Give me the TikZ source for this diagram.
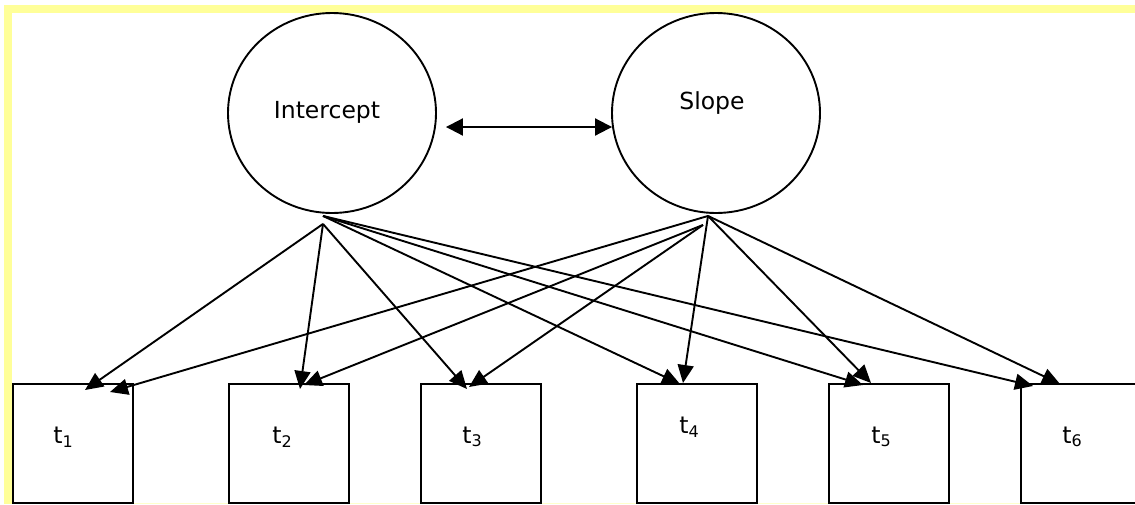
\documentclass[tikz,border=0pt]{standalone}
\usepackage{fontspec}
\setmainfont{DejaVu Sans}
\usetikzlibrary{arrows.meta,shapes.geometric}
\definecolor{framey}{HTML}{FFFF99}
\newcommand\tlab[1]{t\raisebox{-3.5pt}{\fontsize{16}{16}\selectfont #1}}
\tikzset{
  latent/.style={draw,ellipse,line width=1.9pt,minimum width=208pt,minimum height=200pt,inner sep=0pt},
  obsbox/.style={draw,rectangle,line width=2.2pt,minimum width=120pt,minimum height=119pt,inner sep=0pt},
  bigtext/.style={inner sep=0pt,font=\fontsize{23.5}{28}\selectfont},
  path/.style={line width=1.9pt,-{Triangle[length=18pt,width=16pt]}},
  covpath/.style={line width=2pt,{Triangle[length=17pt,width=17pt]}-{Triangle[length=17pt,width=17pt]}}
}
\begin{document}
\begin{tikzpicture}[x=1pt,y=-1pt]
\useasboundingbox (0,0) rectangle (1135,504);
\clip (0,0) rectangle (1135,504);
% yellow frame
\fill[framey] (4,5) rectangle (1135,13);
\fill[framey] (4,5) rectangle (12,504);
\fill[framey!50] (12,503) rectangle (1135,504);
% latent factors
\node[latent] (intercept) at (332,113) {};
\node[latent] (slope) at (716,113) {};
\node[bigtext] (intlab) at (327,112) {Intercept};
\node[bigtext] (slolab) at (712,103) {Slope};
% observed boxes
\node[obsbox,anchor=north west] (t1) at (12,383) {};
\node[obsbox,anchor=north west] (t2) at (228,383) {};
\node[obsbox,anchor=north west] (t3) at (420,383) {};
\node[obsbox,anchor=north west] (t4) at (636,383) {};
\node[obsbox,anchor=north west] (t5) at (828,383) {};
\node[obsbox,anchor=north west] (t6) at (1020,383) {};
\node[bigtext] (l1) at (63,437) {\tlab{1}};
\node[bigtext] (l2) at (282,437) {\tlab{2}};
\node[bigtext] (l3) at (472,437) {\tlab{3}};
\node[bigtext] (l4) at (689,427) {\tlab{4}};
\node[bigtext] (l5) at (881,437) {\tlab{5}};
\node[bigtext] (l6) at (1072,437) {\tlab{6}};
% start points
\coordinate (ia) at ([shift={(-9,10)}]intercept.south);
\coordinate (ib) at ([shift={(-9,2)}]intercept.south);
\coordinate (sa) at ([shift={(-8,2)}]slope.south);
\coordinate (sb) at ([shift={(-13,11)}]slope.south);
% end points
\coordinate (e1i) at ([shift={(73,7)}]t1.north west);
\coordinate (e1s) at ([shift={(98,9)}]t1.north west);
\coordinate (e2i) at ([shift={(72,6)}]t2.north west);
\coordinate (e2s) at ([shift={(76,2)}]t2.north west);
\coordinate (e3i) at ([shift={(47,6)}]t3.north west);
\coordinate (e3s) at ([shift={(49,4)}]t3.north west);
\coordinate (e4i) at ([shift={(44,1)}]t4.north west);
\coordinate (e4s) at ([shift={(47,0)}]t4.north west);
\coordinate (e5i) at ([shift={(35,2)}]t5.north west);
\coordinate (e5s) at ([shift={(43,0)}]t5.north west);
\coordinate (e6i) at ([shift={(13,3)}]t6.north west);
\coordinate (e6s) at ([shift={(40,1)}]t6.north west);
% covariance
\coordinate (ca) at ([shift={(9,14)}]intercept.east);
\coordinate (cb) at ([shift={(1,14)}]slope.west);
\draw[covpath] (ca) -- (cb);
% loadings
\draw[path] (ia) -- (e1i);
\draw[path] (ia) -- (e2i);
\draw[path] (ia) -- (e3i);
\draw[path] (ib) -- (e4i);
\draw[path] (ib) -- (e5i);
\draw[path] (ib) -- (e6i);
\draw[path] (sa) -- (e1s);
\draw[path] (sb) -- (e2s);
\draw[path] (sb) -- (e3s);
\draw[path] (sa) -- (e4s);
\draw[path] (sa) -- (e5s);
\draw[path] (sa) -- (e6s);
\end{tikzpicture}
\end{document}
